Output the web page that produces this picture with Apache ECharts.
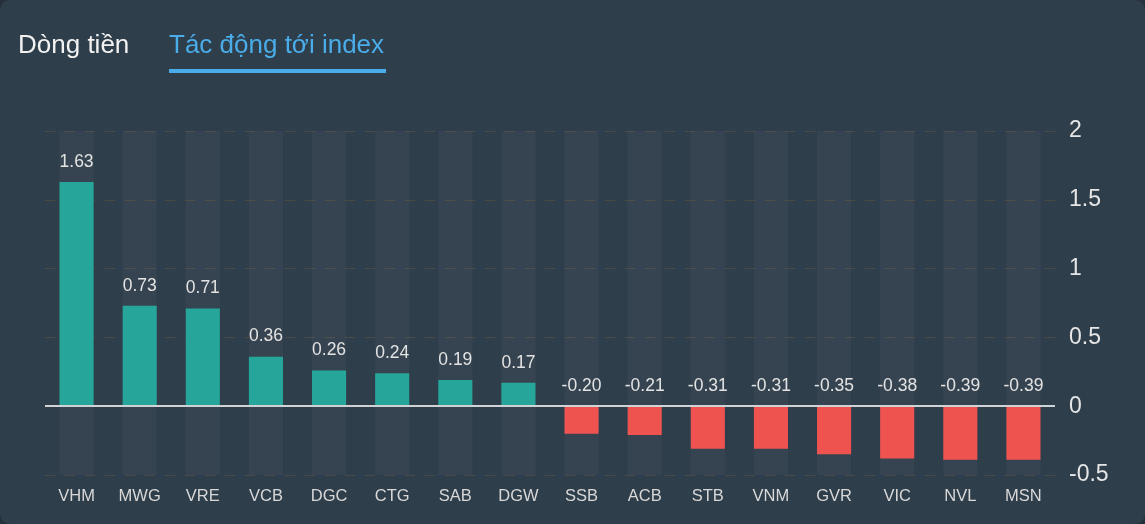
<!DOCTYPE html>
<html><head><meta charset="utf-8">
<script src="https://cdn.jsdelivr.net/npm/echarts@6/dist/echarts.min.js"></script>
<style>
html,body{margin:0;padding:0;background:#25303a;}
#c{width:1145px;height:524px;background:#2f3e4b;border-radius:10px;}
</style></head><body>
<div id="c"></div>
<script>
var categories = ['VHM','MWG','VRE','VCB','DGC','CTG','SAB','DGW','SSB','ACB','STB','VNM','GVR','VIC','NVL','MSN'];
var values = [1.63,0.73,0.71,0.36,0.26,0.24,0.19,0.17,-0.20,-0.21,-0.31,-0.31,-0.35,-0.38,-0.39,-0.39];
var yTicks = {min:-0.5, max:2, interval:0.5};
var tabs = ['Dòng tiền','Tác động tới index'];

var chart = echarts.init(document.getElementById('c'));
var font = '"Liberation Sans", Arial, sans-serif';
chart.setOption({
  backgroundColor: 'transparent',
  textStyle:{fontFamily:font},
  graphic:[
    {type:'text', left:18, top:33, style:{text:tabs[0], fill:'#f2f2f2', font:'26px '+font}},
    {type:'text', left:169, top:33, style:{text:tabs[1], fill:'#4aace8', font:'26px '+font}},
    {type:'rect', left:169, top:69, shape:{width:217,height:4}, style:{fill:'#4aace8'}}
  ],
  grid:{left:45, right:90, top:131, bottom:49},
  xAxis:{type:'category', data:categories,
    axisLine:{show:false}, axisTick:{show:false},
    axisLabel:{color:'#d8d8d8', fontSize:16.5, margin:13, fontFamily:font}},
  yAxis:{type:'value', position:'right', min:yTicks.min, max:yTicks.max, interval:yTicks.interval,
    axisLine:{show:false}, axisTick:{show:false},
    axisLabel:{color:'#e6e6e6', fontSize:23, margin:14, fontFamily:font},
    splitLine:{lineStyle:{color:'#4d4a45', type:[10,10], width:1}}},
  series:[{
    type:'bar', barWidth:'54%',
    data: values.map(function(v){return {value:v, itemStyle:{color: v>=0?'#26a69a':'#ef5350'}};}),
    showBackground:true,
    backgroundStyle:{color:'rgba(255,255,255,0.035)'},
    label:{show:true, position:'top', color:'#e3e3e3', fontSize:17.5, distance:11, fontFamily:font,
      formatter:function(p){return p.value.toFixed(2);}},
    markLine:{silent:true, symbol:'none', label:{show:false},
      lineStyle:{color:'#cfd3d6', width:2, type:'solid'}, data:[{yAxis:0}]}
  }]
});
</script></body></html>
